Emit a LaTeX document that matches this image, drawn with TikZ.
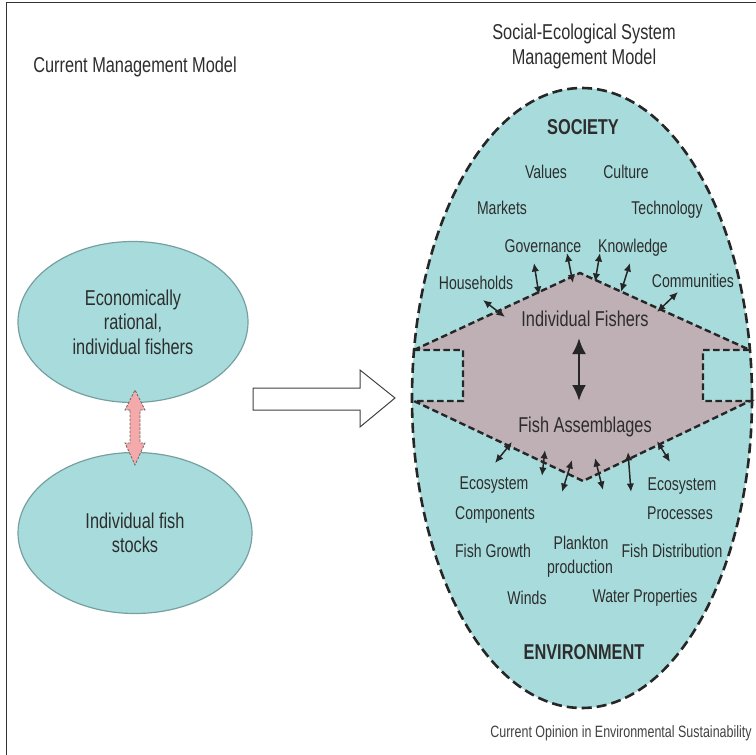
\documentclass[tikz,border=0pt]{standalone}
\usepackage{fontspec}
\setmainfont[FakeStretch=0.76]{Liberation Sans}
\usetikzlibrary{arrows.meta,shapes.geometric}
\definecolor{sescyan}{RGB}{168,220,220}
\definecolor{sesmauve}{RGB}{190,176,181}
\definecolor{ellborder}{RGB}{118,160,160}
\definecolor{pinkfill}{RGB}{244,170,170}
\definecolor{txt}{RGB}{45,45,45}
\definecolor{credit}{RGB}{65,65,65}
\begin{document}
\begin{tikzpicture}[x=1pt,y=-1pt,
  lbl/.style={font=\fontsize{18.5}{22}\selectfont, text=txt, inner sep=0pt, anchor=base},
  big/.style={font=\fontsize{21.5}{24.5}\selectfont, text=txt, inner sep=0pt, anchor=base},
  bigbold/.style={font=\fontsize{21.5}{24.5}\selectfont\bfseries, text=txt, inner sep=0pt, anchor=base},
  leftell/.style={ellipse, fill=sescyan, draw=ellborder, line width=1.2pt, inner sep=0pt,
    align=center, font=\fontsize{21.5}{24.5}\selectfont, text=txt},
  sarrow/.style={line width=1.5pt, draw=black!85,
    {Latex[length=8.5pt,width=7.5pt]}-{Latex[length=8.5pt,width=7.5pt]}},
  carrow/.style={line width=2.6pt, draw=black!85,
    {Latex[length=16pt,width=14pt]}-{Latex[length=16pt,width=14pt]}},
  framestyle/.style={line width=1.6pt, draw=black!80},
]
\useasboundingbox (0,0) rectangle (756,755);
% frame
\draw[framestyle] (6.5,755) -- (6.5,2.5) -- (756,2.5);

% left titles and model
\node[big] (tl) at (135,72) {Current Management Model};
\node[leftell, minimum width=230pt, minimum height=161pt] (econ) at (133,322)
  {Economically\\rational,\\individual fishers};
\node[leftell, minimum width=234pt, minimum height=161pt] (stock) at (135,533)
  {Individual fish\\stocks};
% pink double arrow
\draw[draw=black!60, line width=0.8pt, dash pattern=on 2.5pt off 1.5pt, fill=pinkfill]
  (130,410) -- (125,410) -- (135,390) -- (145,410) -- (140,410) -- (140,443)
  -- (145,443) -- (135,465) -- (125,443) -- (130,443) -- cycle;

% hollow arrow
\draw[line width=1pt, draw=black!75, fill=white]
  (253,388) -- (360,388) -- (360,370) -- (395,398) -- (360,427) -- (360,410) -- (253,410) -- cycle;

% right titles
\node[big] (tr1) at (584,39) {Social-Ecological System};
\node[big] (tr2) at (584,64) {Management Model};

% big ellipse
\node[ellipse, fill=sescyan, draw=black!85, line width=2.6pt, dash pattern=on 10pt off 5pt,
  minimum width=340pt, minimum height=620pt, inner sep=0pt] (ses) at (582,398) {};

% inner shape
\coordinate (dL1) at (414,350);
\coordinate (dT) at (580,273);
\coordinate (dR1) at (750,350);
\coordinate (dR1i) at (703,350);
\coordinate (dR2i) at (703,401);
\coordinate (dR2) at (750,401);
\coordinate (dB) at (583,481);
\coordinate (dL2) at (414,401);
\coordinate (dL2i) at (463,401);
\coordinate (dL1i) at (463,350);
\draw[fill=sesmauve, draw=black!85, line width=2.4pt, dash pattern=on 6.5pt off 3.5pt]
  (dL1) -- (dT) -- (dR1) -- (dR1i) -- (dR2i) -- (dR2) -- (dB) -- (dL2) -- (dL2i) -- (dL1i) -- cycle;

% society labels
\node[bigbold] (soc) at (583,134) {SOCIETY};
\node[lbl] (val) at (546,178) {Values};
\node[lbl] (cul) at (626,178) {Culture};
\node[lbl] (mkt) at (502,214) {Markets};
\node[lbl] (tec) at (667,214) {Technology};
\node[lbl] (gov) at (543,252) {Governance};
\node[lbl] (kno) at (633,252) {Knowledge};
\node[lbl] (hou) at (476,289) {Households};
\node[lbl] (com) at (693,287) {Communities};
\node[big] (fis) at (585,326) {Individual Fishers};
\node[big] (ass) at (585,432) {Fish Assemblages};

% environment labels
\node[lbl] (eco1) at (494,489) {Ecosystem};
\node[lbl] (cmp) at (495,519) {Components};
\node[lbl] (eco2) at (682,490) {Ecosystem};
\node[lbl] (pro) at (680,519) {Processes};
\node[lbl] (fgr) at (493,557) {Fish Growth};
\node[lbl] (pla) at (581,549) {Plankton};
\node[lbl] (prd) at (580,573) {production};
\node[lbl] (fdi) at (672,557) {Fish Distribution};
\node[lbl] (win) at (527,604) {Winds};
\node[lbl] (wat) at (645,602) {Water Properties};
\node[bigbold] (env) at (584,659) {ENVIRONMENT};

% credit
\node[font=\fontsize{16.4}{19}\selectfont, text=credit, inner sep=0pt, anchor=base] (cred)
  at (621,737) {Current Opinion in Environmental Sustainability};

% central arrow
\coordinate (ca1) at (579,338);
\coordinate (ca2) at (579,401);
\draw[carrow] (ca1) -- (ca2);

% small arrows, top
\coordinate (a1s) at (483,300); \coordinate (a1e) at (505,317);
\coordinate (a2s) at (534,263); \coordinate (a2e) at (539,295);
\coordinate (a3s) at (567,253); \coordinate (a3e) at (573,283);
\coordinate (a4s) at (600,253); \coordinate (a4e) at (595,282);
\coordinate (a5s) at (630,263); \coordinate (a5e) at (621,292);
\coordinate (a6s) at (678,292); \coordinate (a6e) at (657,312);
\draw[sarrow] (a1s) -- (a1e);
\draw[sarrow] (a2s) -- (a2e);
\draw[sarrow] (a3s) -- (a3e);
\draw[sarrow] (a4s) -- (a4e);
\draw[sarrow] (a5s) -- (a5e);
\draw[sarrow] (a6s) -- (a6e);
% small arrows, bottom
\coordinate (b1s) at (512,442); \coordinate (b1e) at (495,463);
\coordinate (b2s) at (545,450); \coordinate (b2e) at (542,476);
\coordinate (b3s) at (572,460); \coordinate (b3e) at (562,492);
\coordinate (b4s) at (595,458); \coordinate (b4e) at (603,490);
\coordinate (b5s) at (628,452); \coordinate (b5e) at (631,492);
\coordinate (b6s) at (657,441); \coordinate (b6e) at (670,462);
\draw[sarrow] (b1s) -- (b1e);
\draw[sarrow] (b2s) -- (b2e);
\draw[sarrow] (b3s) -- (b3e);
\draw[sarrow] (b4s) -- (b4e);
\draw[sarrow] (b5s) -- (b5e);
\draw[sarrow] (b6s) -- (b6e);
\end{tikzpicture}
\end{document}
